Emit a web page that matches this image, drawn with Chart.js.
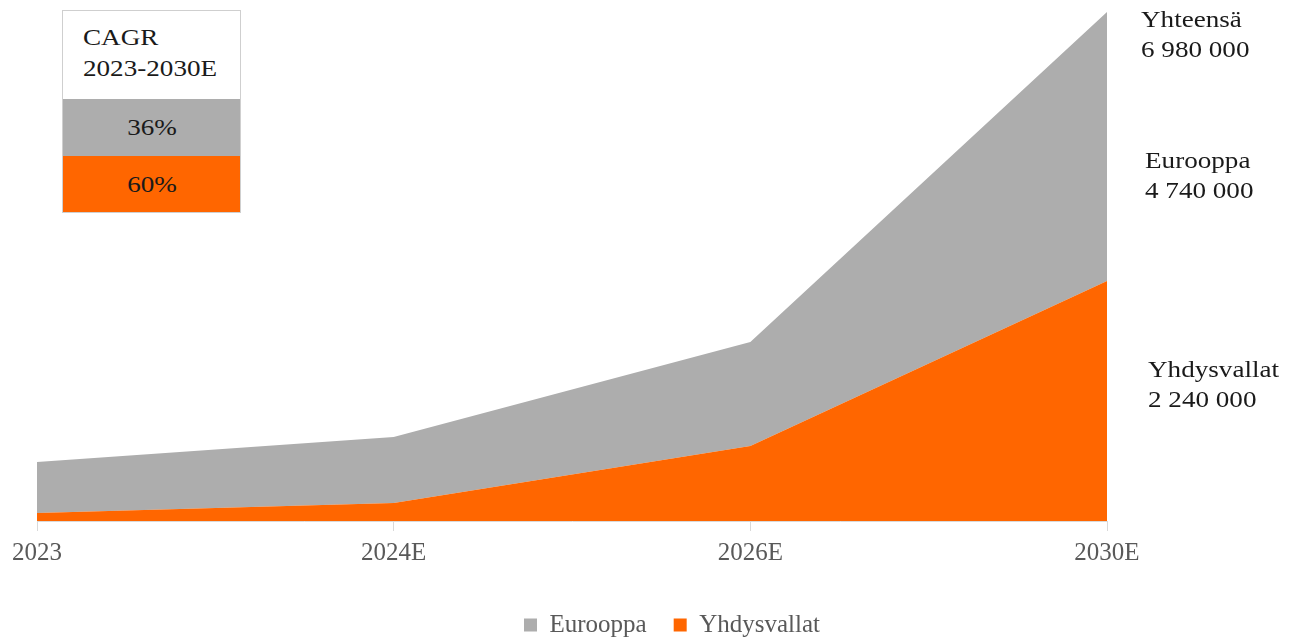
<!DOCTYPE html>
<html>
<head>
<meta charset="utf-8">
<script src="https://cdn.jsdelivr.net/npm/chart.js@4.4.1/dist/chart.umd.min.js"></script>
<style>
  html, body { margin: 0; padding: 0; background: #fff; overflow: hidden; }
  #wrap { position: relative; width: 1290px; height: 639px; overflow: hidden; font-family: "Liberation Serif", "Times New Roman", serif; }
  canvas { position: absolute; left: 0; top: 0; }
  .lbl { position: absolute; font-size: 24px; line-height: 30px; color: #1a1a1a; white-space: nowrap; }
  .sx { display: inline-block; transform: scaleX(1.13); transform-origin: left center; }
  .sxc { display: inline-block; transform: scaleX(1.13); transform-origin: center center; }
  #cagr { position: absolute; left: 62px; top: 10px; width: 177px; font-size: 24px; color: #1a1a1a; border: 1px solid #cfcfcf; }
  #cagr .head { height: 88px; background: #fff; padding: 11px 0 0 20px; box-sizing: border-box; line-height: 31px; }
  #cagr .g { height: 57px; background: #ADADAD; text-align: center; line-height: 57px; }
  #cagr .o { height: 56px; background: #FF6600; text-align: center; line-height: 56px; }
</style>
</head>
<body>
<div id="wrap">
  <canvas id="c" width="1290" height="639"></canvas>
  <div id="cagr">
    <div class="head"><span class="sx">CAGR</span><br><span class="sx">2023-2030E</span></div>
    <div class="g"><span class="sxc" id="cagrEu"></span></div>
    <div class="o"><span class="sxc" id="cagrUs"></span></div>
  </div>
  <div class="lbl" style="left:1141px; top:4px;"><span class="sx">Yhteensä</span><br><span class="sx">6 980 000</span></div>
  <div class="lbl" style="left:1145px; top:145px;"><span class="sx">Eurooppa</span><br><span class="sx">4 740 000</span></div>
  <div class="lbl" style="left:1148px; top:354px;"><span class="sx">Yhdysvallat</span><br><span class="sx">2 240 000</span></div>
</div>
<script>
const categories = ["2023", "2024E", "2026E", "2030E"];
const usValues = [110000, 247000, 1028000, 3291000];
const euValues = [699000, 905000, 1427000, 3689000];
const cagrLabels = ["36%", "60%"];
const yMax = 6980000;

document.getElementById("cagrEu").textContent = cagrLabels[0];
document.getElementById("cagrUs").textContent = cagrLabels[1];

const serif = "'Liberation Serif', 'Times New Roman', serif";

new Chart(document.getElementById("c"), {
  type: "line",
  data: {
    labels: categories,
    datasets: [
      { label: "Yhdysvallat", data: usValues, backgroundColor: "#FF6600", borderColor: "#FF6600",
        borderWidth: 0, pointRadius: 0, fill: "origin", tension: 0 },
      { label: "Eurooppa", data: euValues, backgroundColor: "#ADADAD", borderColor: "#ADADAD",
        borderWidth: 0, pointRadius: 0, fill: "-1", tension: 0 }
    ]
  },
  options: {
    responsive: false,
    animation: false,
    layout: { padding: { left: 37, right: -17, top: 12, bottom: -8.5 } },
    plugins: {
      tooltip: { enabled: false },
      legend: {
        position: "bottom",
        reverse: true,
        labels: { boxWidth: 13, boxHeight: 13, color: "#595959", padding: 27,
          font: { family: serif, size: 25 } }
      }
    },
    scales: {
      x: {
        offset: false,
        grid: { display: true, drawOnChartArea: false, drawTicks: true, tickLength: 10, color: "#d9d9d9" },
        border: { display: true, color: "#d9d9d9", width: 1 },
        ticks: { color: "#595959", padding: 7, maxRotation: 0, autoSkip: false, font: { family: serif, size: 25 } },
        afterFit: (s) => { s.height = 64.5; }
      },
      y: {
        display: false,
        stacked: true,
        min: 0,
        max: yMax
      },
      y2: {
        position: "right",
        display: true,
        grid: { display: false },
        border: { display: false },
        ticks: { display: false },
        afterFit: (s) => { s.width = 200; }
      }
    }
  }
});
</script>
</body>
</html>
